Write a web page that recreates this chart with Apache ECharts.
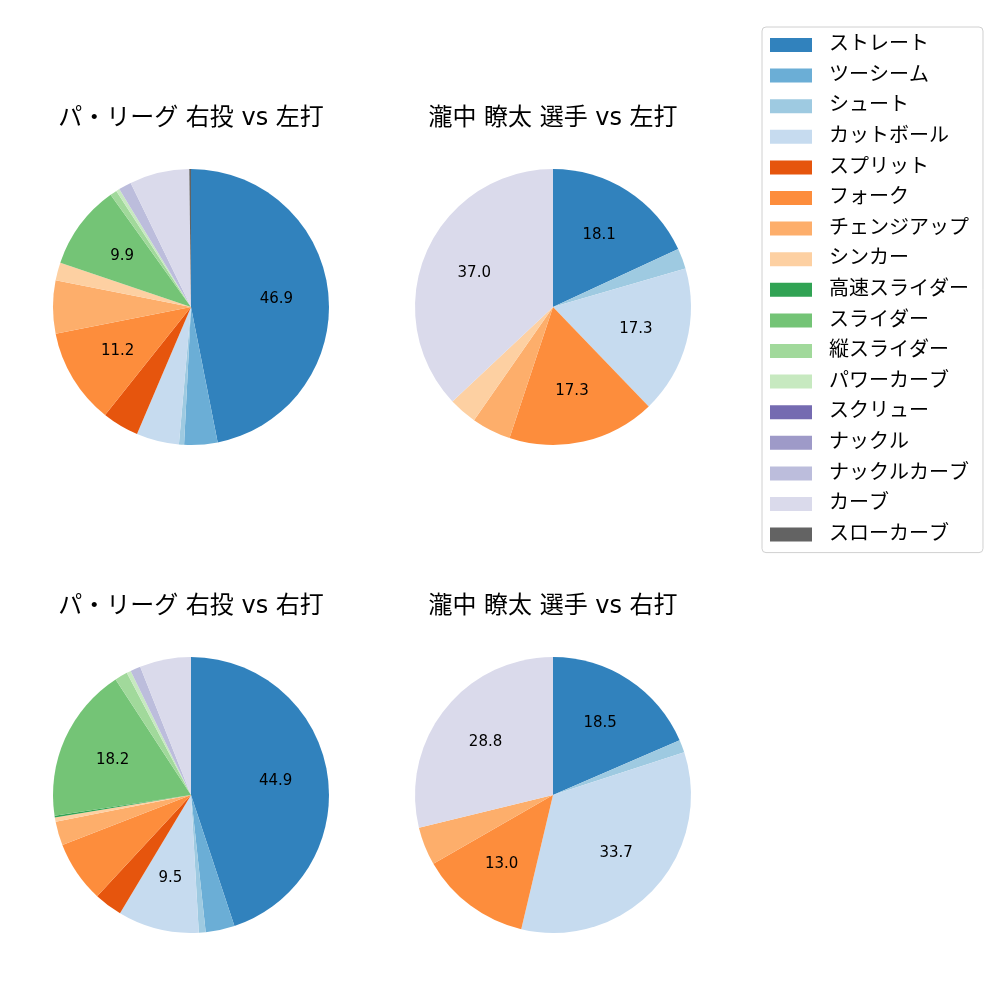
<!DOCTYPE html>
<html><head><meta charset="utf-8">
<script src="https://cdn.jsdelivr.net/npm/echarts@6/dist/echarts.min.js"></script>
<style>html,body{margin:0;padding:0;background:#fff}#c{width:1000px;height:1000px}</style>
</head><body><div id="c"></div>
<script>
const categories = ["ストレート","ツーシーム","シュート","カットボール","スプリット","フォーク","チェンジアップ","シンカー","高速スライダー","スライダー","縦スライダー","パワーカーブ","スクリュー","ナックル","ナックルカーブ","カーブ","スローカーブ"];
const colors = ["#3182bd","#6baed6","#9ecae1","#c6dbef","#e6550d","#fd8d3c","#fdae6b","#fdd0a2","#31a354","#74c476","#a1d99b","#c7e9c0","#756bb1","#9e9ac8","#bcbddc","#dadaeb","#636363"];
const titles = ["パ・リーグ 右投 vs 左打","瀧中 瞭太 選手 vs 左打","パ・リーグ 右投 vs 右打","瀧中 瞭太 選手 vs 右打"];
const leagueVsLeft  = [46.9,3.9,0.6,5.0,4.3,11.2,6.2,2.1,0,9.9,0.8,0.4,0,0,1.5,7.0,0.2];
const playerVsLeft  = [18.1,0,2.4,17.3,0,17.3,4.6,3.3,0,0,0,0,0,0,0,37.0,0];
const leagueVsRight = [44.9,3.4,0.8,9.5,3.3,7.2,2.8,0.5,0.2,18.2,1.5,0.5,0,0,1.2,6.0,0];
const playerVsRight = [18.5,0,1.5,33.7,0,13.0,4.5,0,0,0,0,0,0,0,0,28.8,0];
const seriesValues = [leagueVsLeft, playerVsLeft, leagueVsRight, playerVsRight];

const centers = [[191,307],[553,307],[191,795],[553,795]];
const R = 138;
const FONT = "'DejaVu Sans','Noto Sans CJK JP',sans-serif";

const series = [];
const title = [];
seriesValues.forEach((vals, i) => {
  const data = categories.map((n, k) => ({name: n, value: vals[k], itemStyle: {color: colors[k]}}));
  series.push({
    type: 'pie', center: centers[i], radius: [0, R], startAngle: 90, clockwise: true,
    avoidLabelOverlap: false, silent: true, animation: false, stillShowZeroSum: false,
    itemStyle: {borderWidth: 0},
    label: {show: false}, labelLine: {show: false},
    data: data
  });
  series.push({
    type: 'pie', center: centers[i], radius: [0, R * 1.2], startAngle: 90, clockwise: true,
    avoidLabelOverlap: false, silent: true, animation: false, legendHoverLink: false,
    itemStyle: {color: 'rgba(0,0,0,0)', borderWidth: 0},
    label: {show: true, position: 'inside', color: '#000', fontSize: 15, fontFamily: FONT,
      formatter: p => p.value >= 8 ? p.value.toFixed(1) : ''},
    labelLine: {show: false},
    data: categories.map((n, k) => ({name: n + ' ', value: vals[k]}))
  });
  title.push({
    text: titles[i], left: centers[i][0] - 5, top: i >= 2 ? 590 : 102, textAlign: 'center',
    textStyle: {fontSize: 24, fontWeight: 'normal', color: '#000', fontFamily: FONT}
  });
});

const chart = echarts.init(document.getElementById('c'), null, {renderer: 'canvas'});
chart.setOption({
  animation: false,
  title: title,
  legend: {
    data: categories, orient: 'vertical', left: 762, top: 27,
    itemWidth: 42, itemHeight: 14, itemGap: 10.6, icon: 'rect',
    padding: [8, 14, 8, 8],
    borderColor: '#d0d0d0', borderWidth: 1, borderRadius: 4, backgroundColor: '#fff',
    selectedMode: false,
    textStyle: {fontSize: 20, color: '#000', fontFamily: FONT, padding: [0,0,0,12]}
  },
  series: series
});
</script></body></html>
